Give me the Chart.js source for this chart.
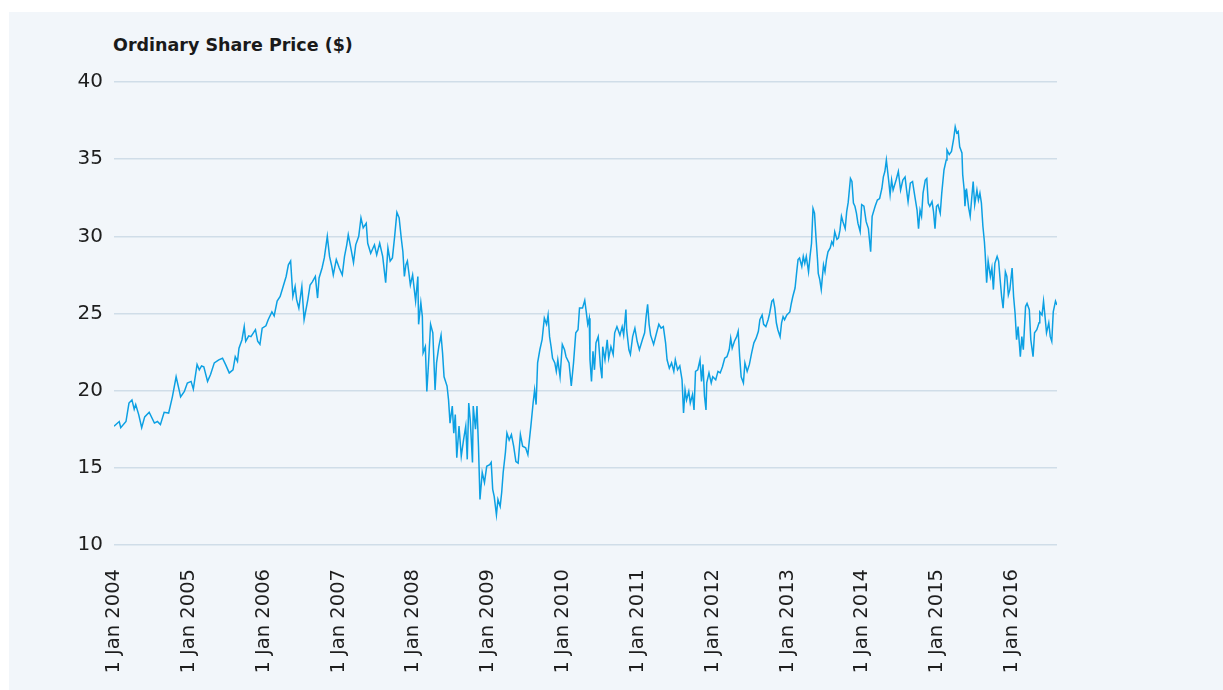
<!DOCTYPE html>
<html>
<head>
<meta charset="utf-8">
<script src="https://cdn.jsdelivr.net/npm/chart.js@4.4.1/dist/chart.umd.min.js"></script>
<style>
  html, body { margin: 0; padding: 0; background: #ffffff; }
  #panel { position: absolute; left: 9px; top: 12px; right: 0; bottom: 0; background: #f2f6fa; }
  #title { position: absolute; left: 113px; top: 35px; font-family: "DejaVu Sans", sans-serif; font-weight: bold; font-size: 17.5px; color: #1a1a1a; }
  #chart { position: absolute; left: 0; top: 0; }
</style>
</head>
<body>
<div id="panel"></div>
<div id="title">Ordinary Share Price ($)</div>
<canvas id="chart" width="1223" height="690"></canvas>
<script>
// dates as fractional years
const dates = [
  2004.00, 2004.07, 2004.09, 2004.16, 2004.20, 2004.24, 2004.27, 2004.29, 2004.33, 2004.37,
  2004.41, 2004.47, 2004.54, 2004.58, 2004.62, 2004.67, 2004.73, 2004.78, 2004.83, 2004.87,
  2004.89, 2004.94, 2004.98, 2005.03, 2005.06, 2005.11, 2005.14, 2005.17, 2005.20, 2005.25,
  2005.29, 2005.34, 2005.40, 2005.45, 2005.49, 2005.54, 2005.59, 2005.62, 2005.65, 2005.67,
  2005.71, 2005.74, 2005.76, 2005.80, 2005.83, 2005.89, 2005.92, 2005.95, 2005.98, 2006.03,
  2006.06, 2006.11, 2006.14, 2006.18, 2006.22, 2006.26, 2006.30, 2006.33, 2006.36, 2006.39,
  2006.42, 2006.44, 2006.47, 2006.51, 2006.54, 2006.59, 2006.62, 2006.65, 2006.69, 2006.72,
  2006.74, 2006.78, 2006.81, 2006.85, 2006.88, 2006.91, 2006.93, 2006.97, 2007.01, 2007.05,
  2007.08, 2007.11, 2007.13, 2007.17, 2007.20, 2007.23, 2007.27, 2007.30, 2007.33, 2007.37,
  2007.39, 2007.43, 2007.48, 2007.51, 2007.55, 2007.59, 2007.63, 2007.66, 2007.69, 2007.72,
  2007.75, 2007.78, 2007.81, 2007.84, 2007.86, 2007.88, 2007.90, 2007.92, 2007.96, 2007.99,
  2008.03, 2008.06, 2008.07, 2008.10, 2008.12, 2008.13, 2008.16, 2008.18, 2008.20, 2008.23,
  2008.26, 2008.29, 2008.31, 2008.34, 2008.37, 2008.39, 2008.41, 2008.45, 2008.47, 2008.49,
  2008.52, 2008.54, 2008.56, 2008.58, 2008.61, 2008.64, 2008.67, 2008.70, 2008.72, 2008.74,
  2008.76, 2008.79, 2008.80, 2008.83, 2008.85, 2008.87, 2008.89, 2008.92, 2008.95, 2008.98,
  2009.02, 2009.04, 2009.06, 2009.08, 2009.11, 2009.13, 2009.16, 2009.18, 2009.20, 2009.23,
  2009.25, 2009.28, 2009.31, 2009.34, 2009.37, 2009.40, 2009.43, 2009.46, 2009.50, 2009.53,
  2009.55, 2009.57, 2009.60, 2009.62, 2009.64, 2009.66, 2009.69, 2009.72, 2009.75, 2009.78,
  2009.80, 2009.82, 2009.84, 2009.86, 2009.89, 2009.91, 2009.93, 2009.96, 2009.99, 2010.02,
  2010.04, 2010.08, 2010.11, 2010.14, 2010.17, 2010.20, 2010.22, 2010.26, 2010.29, 2010.31,
  2010.33, 2010.35, 2010.36, 2010.38, 2010.40, 2010.42, 2010.44, 2010.47, 2010.50, 2010.52,
  2010.53, 2010.56, 2010.59, 2010.61, 2010.64, 2010.67, 2010.69, 2010.72, 2010.76, 2010.79,
  2010.81, 2010.84, 2010.85, 2010.88, 2010.90, 2010.93, 2010.96, 2010.99, 2011.02, 2011.06,
  2011.09, 2011.11, 2011.13, 2011.15, 2011.17, 2011.21, 2011.25, 2011.28, 2011.31, 2011.34,
  2011.37, 2011.39, 2011.42, 2011.45, 2011.48, 2011.50, 2011.53, 2011.56, 2011.59, 2011.61,
  2011.63, 2011.65, 2011.68, 2011.70, 2011.73, 2011.75, 2011.77, 2011.80, 2011.83, 2011.85,
  2011.87, 2011.89, 2011.91, 2011.92, 2011.95, 2011.98, 2012.00, 2012.04, 2012.07, 2012.10,
  2012.13, 2012.16, 2012.19, 2012.22, 2012.24, 2012.26, 2012.29, 2012.32, 2012.34, 2012.36,
  2012.38, 2012.41, 2012.43, 2012.46, 2012.49, 2012.52, 2012.55, 2012.58, 2012.61, 2012.63,
  2012.66, 2012.68, 2012.71, 2012.74, 2012.76, 2012.79, 2012.81, 2012.83, 2012.85, 2012.87,
  2012.90, 2012.92, 2012.94, 2012.96, 2012.99, 2013.03, 2013.05, 2013.07, 2013.10, 2013.12,
  2013.14, 2013.16, 2013.19, 2013.21, 2013.23, 2013.25, 2013.28, 2013.30, 2013.32, 2013.34,
  2013.36, 2013.38, 2013.40, 2013.41, 2013.43, 2013.45, 2013.48, 2013.50, 2013.52, 2013.54,
  2013.57, 2013.59, 2013.61, 2013.63, 2013.66, 2013.68, 2013.70, 2013.72, 2013.74, 2013.77,
  2013.79, 2013.81, 2013.84, 2013.86, 2013.88, 2013.90, 2013.92, 2013.94, 2013.97, 2013.99,
  2014.02, 2014.05, 2014.08, 2014.11, 2014.13, 2014.17, 2014.20, 2014.23, 2014.26, 2014.28,
  2014.30, 2014.32, 2014.35, 2014.37, 2014.39, 2014.41, 2014.45, 2014.48, 2014.51, 2014.54,
  2014.57, 2014.59, 2014.61, 2014.64, 2014.67, 2014.70, 2014.73, 2014.75, 2014.77, 2014.79,
  2014.81, 2014.84, 2014.86, 2014.88, 2014.90, 2014.93, 2014.95, 2014.97, 2014.99, 2015.01,
  2015.04, 2015.06, 2015.09, 2015.12, 2015.13, 2015.16, 2015.19, 2015.22, 2015.24, 2015.26,
  2015.28, 2015.30, 2015.33, 2015.34, 2015.36, 2015.37, 2015.39, 2015.42, 2015.44, 2015.46,
  2015.48, 2015.50, 2015.53, 2015.55, 2015.57, 2015.59, 2015.61, 2015.63, 2015.64, 2015.66,
  2015.68, 2015.71, 2015.73, 2015.75, 2015.77, 2015.80, 2015.82, 2015.84, 2015.86, 2015.88,
  2015.91, 2015.93, 2015.95, 2015.97, 2016.00, 2016.02, 2016.04, 2016.06, 2016.08, 2016.11,
  2016.13, 2016.15, 2016.18, 2016.20, 2016.23, 2016.25, 2016.28, 2016.30, 2016.33, 2016.36,
  2016.37, 2016.40, 2016.42, 2016.44, 2016.46, 2016.49, 2016.51, 2016.53, 2016.55, 2016.58,
  2016.60
]

const prices = [
  17.7, 18.0, 17.6, 18.0, 19.2, 19.4, 18.8, 19.1, 18.45, 17.6,
  18.3, 18.6, 17.9, 18.0, 17.8, 18.6, 18.55, 19.6, 20.9, 20.05,
  19.6, 19.95, 20.5, 20.6, 20.1, 21.7, 21.35, 21.6, 21.55, 20.6,
  21.05, 21.8, 22.0, 22.1, 21.7, 21.15, 21.35, 22.2, 21.9, 22.75,
  23.3, 24.15, 23.2, 23.55, 23.5, 23.95, 23.2, 23.0, 24.05, 24.2,
  24.6, 25.1, 24.85, 25.8, 26.1, 26.75, 27.4, 28.15, 28.4, 26.1,
  26.75, 25.9, 25.35, 26.75, 24.6, 25.9, 26.85, 27.05, 27.4, 26.0,
  27.3, 27.95, 28.6, 30.0, 28.7, 28.05, 27.5, 28.5, 27.95, 27.5,
  28.7, 29.45, 30.1, 29.1, 28.3, 29.45, 30.0, 31.2, 30.55, 30.85,
  29.55, 28.9, 29.45, 28.8, 29.55, 28.7, 27.0, 29.25, 28.4, 28.6,
  30.0, 31.55, 31.2, 29.8, 29.0, 27.4, 28.15, 28.4, 26.85, 27.5,
  25.8, 27.4, 24.3, 25.7, 24.8, 22.45, 22.85, 19.95, 21.55, 24.3,
  23.75, 20.05, 21.8, 22.85, 23.6, 22.45, 20.9, 20.3, 19.4, 17.9,
  19.0, 17.25, 18.45, 15.65, 17.7, 15.75, 16.8, 17.7, 15.55, 19.2,
  18.1, 15.35, 19.0, 17.5, 19.0, 16.4, 12.95, 14.7, 14.05, 15.1,
  15.2, 15.35, 13.6, 13.15, 11.95, 12.95, 12.5, 13.4, 14.7, 16.0,
  17.25, 16.8, 17.15, 16.4, 15.4, 15.3, 17.15, 16.4, 16.3, 15.85,
  16.8, 17.7, 19.2, 20.05, 19.1, 21.8, 22.65, 23.3, 24.7, 24.3,
  24.9, 23.5, 22.85, 22.1, 21.8, 21.25, 22.0, 20.9, 23.0, 22.65,
  22.2, 21.8, 20.3, 21.8, 23.75, 23.95, 25.35, 25.35, 25.85, 25.1,
  24.3, 24.7, 22.0, 20.6, 22.55, 21.35, 23.1, 23.5, 21.55, 20.8,
  22.85, 22.0, 23.3, 22.1, 22.85, 22.35, 23.75, 24.15, 23.6, 24.15,
  23.6, 25.25, 23.95, 22.65, 22.35, 23.5, 24.05, 23.2, 22.65, 23.3,
  23.75, 24.8, 25.6, 24.3, 23.6, 23.0, 23.75, 24.3, 24.05, 24.15,
  23.1, 22.0, 21.45, 21.8, 21.25, 22.0, 21.35, 21.6, 20.7, 18.55,
  20.05, 19.4, 19.95, 19.2, 19.75, 18.75, 21.25, 21.35, 22.0, 20.6,
  21.7, 19.65, 18.75, 20.5, 21.15, 20.5, 20.9, 20.7, 21.25, 21.15,
  21.55, 22.1, 22.2, 22.65, 23.4, 22.75, 23.2, 23.5, 23.85, 22.2,
  20.9, 20.5, 21.8, 21.25, 21.7, 22.45, 23.1, 23.4, 23.85, 24.6,
  24.9, 24.3, 24.15, 24.6, 25.0, 25.8, 25.9, 25.35, 24.4, 23.95,
  23.5, 24.4, 24.8, 24.6, 24.9, 25.1, 25.65, 26.1, 26.65, 27.6,
  28.5, 28.6, 28.05, 28.7, 28.25, 28.7, 27.7, 28.7, 29.55, 31.8,
  31.5, 29.9, 28.5, 27.6, 27.2, 26.55, 28.15, 27.7, 28.5, 29.0,
  29.25, 29.65, 29.45, 30.3, 29.8, 29.9, 30.4, 31.3, 30.95, 30.5,
  31.6, 32.2, 33.75, 33.55, 32.15, 31.95, 31.5, 30.85, 30.3, 32.05,
  31.95, 30.95, 30.5, 29.0, 31.3, 31.95, 32.35, 32.45, 33.1, 33.85,
  34.2, 34.95, 33.65, 32.7, 33.65, 33.0, 33.65, 34.2, 33.0, 33.65,
  33.85, 33.0, 32.25, 33.45, 33.55, 32.6, 31.7, 30.5, 31.7, 31.3,
  32.8, 33.65, 33.75, 32.15, 31.95, 32.25, 31.6, 30.5, 31.95, 32.05,
  31.5, 32.8, 34.3, 34.95, 35.6, 35.3, 35.5, 36.35, 37.1, 36.7,
  36.8, 35.8, 35.4, 34.0, 33.0, 31.95, 33.1, 31.85, 31.3, 32.45,
  33.55, 32.05, 33.0, 32.35, 32.8, 32.15, 30.65, 29.65, 28.9, 27.0,
  28.4, 27.4, 27.95, 26.55, 28.25, 28.7, 28.4, 27.2, 26.1, 25.35,
  27.7, 27.4, 26.2, 26.55, 27.95, 26.1, 25.0, 23.3, 24.15, 22.2,
  23.5, 22.65, 25.45, 25.65, 25.25, 23.3, 22.2, 23.75, 23.95, 24.4,
  25.1, 24.9, 25.8, 24.8, 23.75, 24.4, 23.5, 23.2, 25.1, 25.8,
  25.55
]

const yearTicks = [2004, 2005, 2006, 2007, 2008, 2009, 2010, 2011, 2012, 2013, 2014, 2015, 2016]
const priceTicks = [10, 15, 20, 25, 30, 35, 40]

const points = dates.map((d, i) => ({ x: d, y: prices[i] }))

const chartCanvas = document.getElementById("chart")

let chart = new Chart(chartCanvas, {
  type: 'line',
  data: {
    datasets: [
      {
        label: 'Ordinary Share Price ($)',
        data: points,
        borderColor: '#0ca0e3',
        borderWidth: 1.5,
        pointRadius: 0,
        tension: 0,
        fill: false
      }
    ]
  },
  options: {
    responsive: false,
    animation: false,
    layout: { padding: { left: 0, top: 82, right: 166, bottom: 0 } },
    plugins: { legend: { display: false }, tooltip: { enabled: false } },
    scales: {
      x: {
        type: 'linear',
        min: 2004,
        max: 2016.6,
        grid: { display: false, drawTicks: false },
        border: { display: false },
        afterBuildTicks: scale => { scale.ticks = yearTicks.map(v => ({ value: v })) },
        afterFit: scale => { scale.height = 145 },
        ticks: {
          autoSkip: false,
          minRotation: 90,
          maxRotation: 90,
          padding: 24,
          color: '#1e1e1e',
          font: { family: 'DejaVu Sans', size: 19.5 },
          callback: v => '1 Jan ' + v
        }
      },
      y: {
        min: 10,
        max: 40,
        grid: { color: '#d0dde8', lineWidth: 1.5, drawTicks: false },
        border: { display: false },
        afterBuildTicks: scale => { scale.ticks = priceTicks.map(v => ({ value: v })) },
        afterFit: scale => { scale.width = 114 },
        ticks: {
          padding: 11,
          color: '#1e1e1e',
          font: { family: 'DejaVu Sans', size: 20 }
        }
      }
    }
  }
});
</script>
</body>
</html>
